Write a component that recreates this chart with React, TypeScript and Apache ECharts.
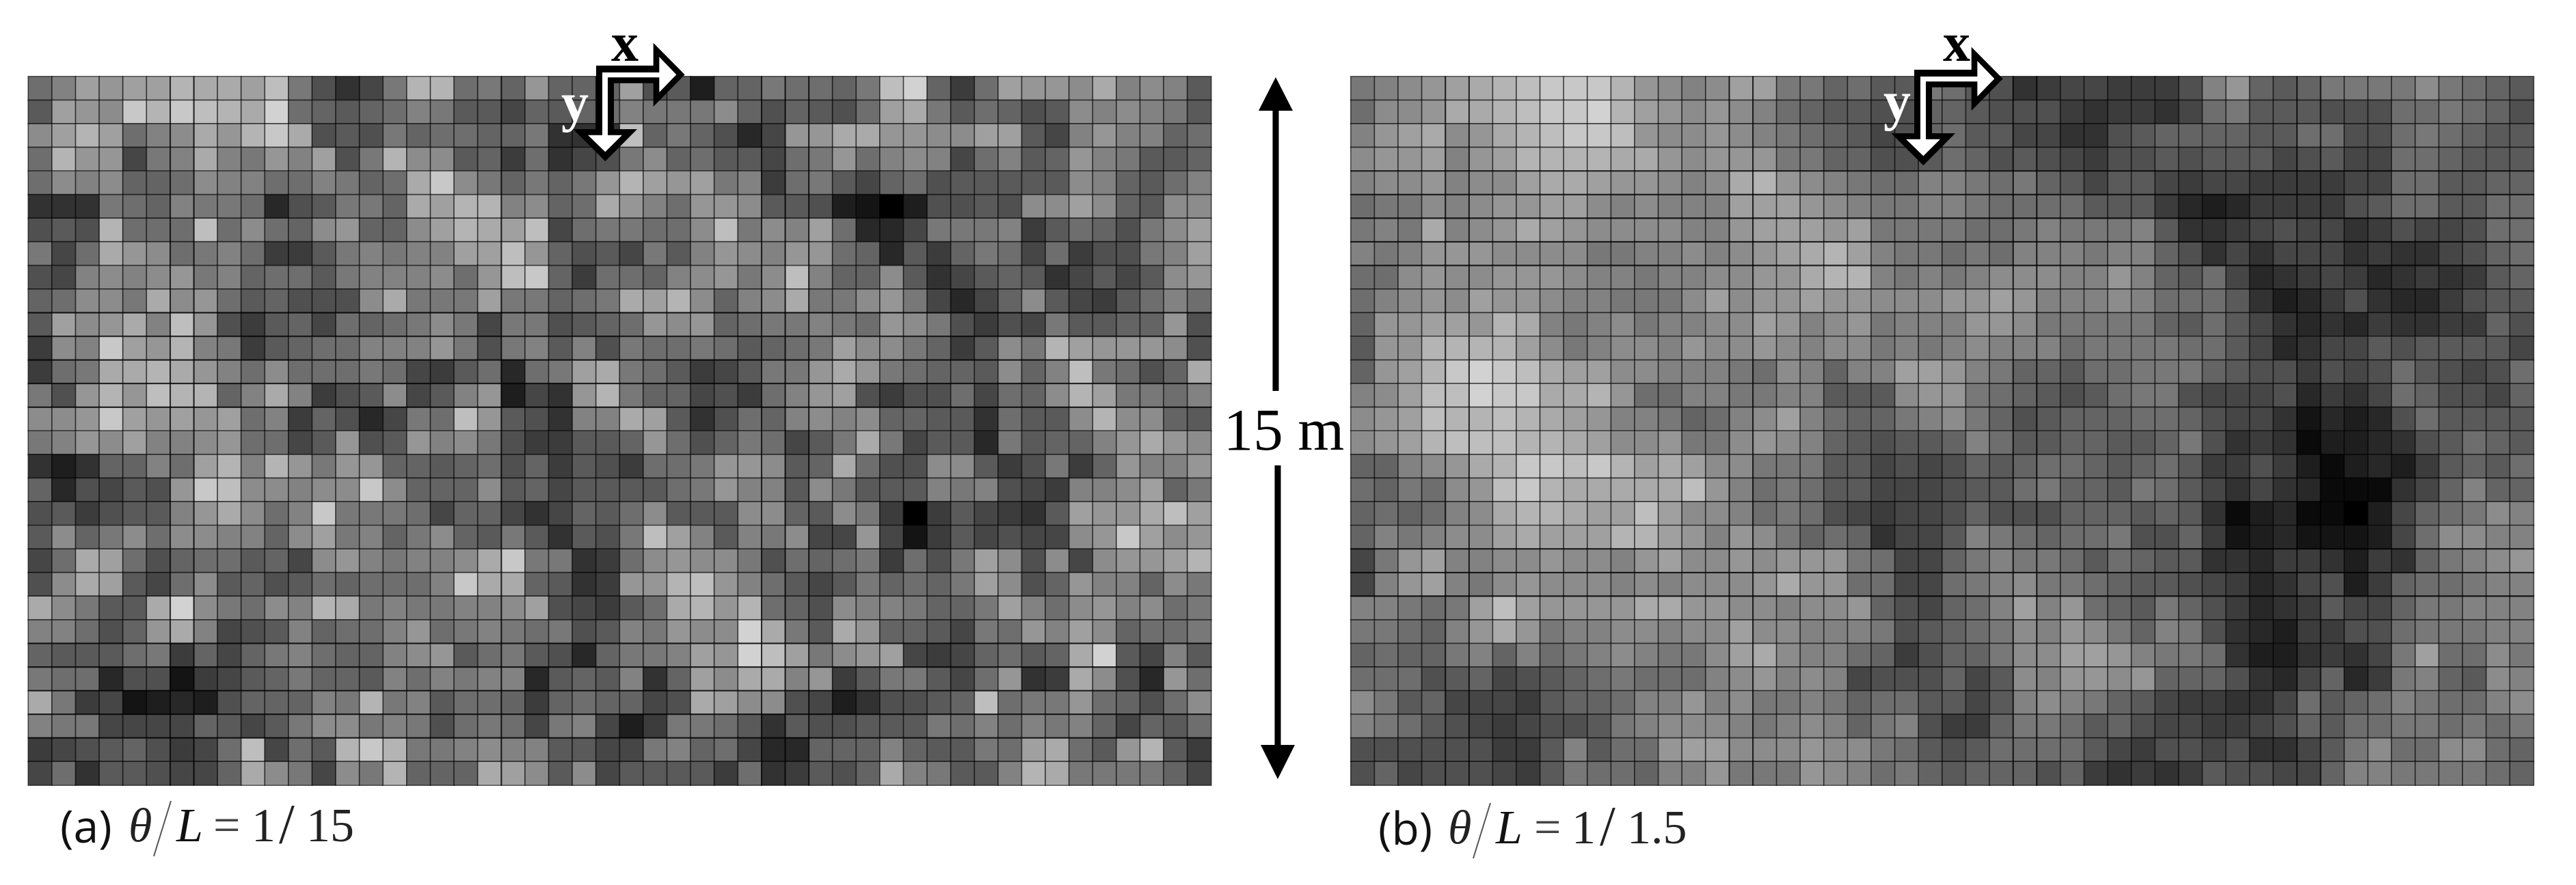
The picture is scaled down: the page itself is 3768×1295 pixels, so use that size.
import React, { useEffect, useRef } from "react";
import * as echarts from "echarts";

// Grey level of each cell divided by ten (row by row, 30 rows x 50 columns)
const rowsA = [
  [11,13,16,15,16,16,18,17,17,16,19,12,8,5,7,12,18,18,11,12,10,15,10,10,10,16,8,9,3,10,10,12,11,11,10,12,19,21,10,6,11,16,15,15,14,17,13,14,13,9],
  [9,16,15,14,20,18,20,19,18,17,21,11,10,9,10,11,13,12,9,9,7,10,9,10,11,13,12,12,12,14,10,8,10,9,8,11,16,17,12,9,11,10,8,9,14,13,14,13,12,9],
  [14,16,18,16,11,13,14,17,15,18,20,17,8,9,8,12,10,11,11,10,10,12,5,5,5,19,10,12,10,8,4,7,15,15,17,17,15,15,14,14,16,16,9,7,13,15,13,13,10,11],
  [11,18,15,15,7,12,13,17,13,12,15,13,16,8,12,18,14,14,9,10,6,11,5,7,8,12,14,10,11,9,9,7,11,12,15,11,13,14,13,7,11,13,9,10,15,13,12,9,9,10],
  [11,14,13,14,10,10,11,14,13,13,11,11,13,12,10,11,17,20,14,12,10,12,10,12,15,18,16,15,16,12,13,6,11,12,9,7,10,11,8,9,9,9,9,9,14,13,10,9,11,13],
  [5,5,5,12,11,10,13,12,12,11,4,8,9,12,12,10,17,16,18,18,13,14,10,11,17,15,13,11,15,15,14,9,9,8,3,2,0,3,8,8,9,8,14,14,16,14,10,9,14,14],
  [8,9,8,18,11,11,11,19,11,14,11,10,14,15,10,10,14,16,18,17,16,19,7,11,12,12,11,11,14,19,12,14,13,16,11,4,4,7,12,12,12,13,6,9,11,10,8,12,14,16],
  [12,7,11,17,15,14,11,12,13,11,6,6,9,12,13,12,13,13,16,16,19,15,10,8,9,7,12,9,13,15,14,13,15,15,11,10,4,9,6,10,12,11,7,11,6,8,8,12,13,16],
  [8,7,13,14,13,14,15,12,13,10,11,11,9,12,13,13,13,14,11,15,19,20,10,6,11,11,10,13,14,15,12,14,19,13,10,10,14,9,5,7,9,10,9,5,7,9,7,9,14,15],
  [10,11,14,14,12,17,14,15,11,9,10,8,8,8,14,17,12,12,12,16,12,12,10,11,12,17,16,18,14,10,13,14,17,12,12,14,15,12,7,4,7,10,14,9,7,6,9,11,13,11],
  [9,16,14,15,17,13,19,15,8,6,9,10,7,11,10,11,12,14,12,7,12,12,8,9,10,11,15,14,15,10,11,12,12,13,12,11,15,14,12,8,6,8,7,12,9,9,10,10,15,8],
  [6,14,13,20,16,15,18,13,12,6,9,10,11,11,13,13,13,15,12,8,12,13,9,13,8,12,11,11,12,11,9,10,11,12,16,14,14,12,10,6,9,14,12,18,16,15,15,15,14,8],
  [6,11,12,17,17,18,17,15,13,11,14,11,11,11,12,11,7,6,9,11,4,11,12,16,17,12,11,9,6,7,9,12,12,15,17,15,12,11,10,10,9,14,10,13,19,12,11,8,10,17],
  [12,8,15,18,15,19,18,18,10,13,17,13,6,8,9,14,7,9,13,15,3,7,5,15,18,12,10,10,7,8,6,11,13,15,16,8,6,8,8,11,7,11,10,14,18,16,12,12,11,13],
  [14,14,15,20,16,15,16,15,16,11,13,6,10,8,4,7,12,11,19,15,9,8,5,13,13,17,16,9,5,8,11,10,13,14,13,14,10,10,9,9,5,11,9,9,14,18,14,14,10,9],
  [12,13,15,14,16,13,13,14,15,11,11,7,9,15,8,9,15,13,14,12,8,6,6,9,9,10,15,11,8,10,12,11,7,9,12,17,12,7,9,9,4,12,9,10,10,13,15,17,15,14],
  [5,3,5,10,10,13,11,16,18,13,18,15,12,15,15,10,10,9,10,11,8,10,6,9,8,6,11,11,12,15,15,14,9,10,17,11,8,8,14,14,9,6,8,12,6,10,15,13,13,15],
  [10,4,8,7,9,8,15,20,19,14,14,13,14,14,20,14,10,10,10,14,9,10,7,9,9,9,9,11,12,15,13,13,9,14,12,9,9,9,13,12,13,8,7,6,13,13,14,16,10,12],
  [8,9,6,8,9,9,13,15,17,14,11,13,20,12,12,12,11,7,10,10,7,5,7,10,9,11,14,9,9,9,14,14,10,9,14,12,6,0,6,9,7,6,5,9,16,15,15,17,19,16],
  [9,14,10,12,14,11,14,14,13,13,10,14,16,12,13,10,12,14,10,9,12,9,5,9,8,12,19,16,13,9,13,12,14,7,7,15,7,2,6,9,7,8,7,7,14,15,20,16,14,15],
  [7,11,17,16,11,8,10,11,11,9,10,7,14,15,13,12,13,13,14,17,20,12,12,5,6,11,14,15,14,14,12,8,11,10,11,12,6,11,8,12,16,14,8,14,7,14,15,15,16,18],
  [8,14,17,16,9,7,11,14,9,10,8,9,11,10,11,11,11,13,20,17,17,10,9,5,6,15,15,18,19,15,13,11,9,7,9,12,10,11,10,12,16,14,8,10,15,13,13,10,14,12],
  [17,14,12,9,9,17,21,14,12,11,14,13,18,17,12,13,12,12,13,13,14,16,8,7,6,9,11,17,18,15,18,11,10,8,14,13,13,12,10,10,12,16,13,11,14,15,13,14,11,12],
  [13,13,11,8,10,15,17,13,7,8,9,13,10,11,11,13,15,11,12,13,12,11,12,8,9,13,12,15,14,14,21,17,12,9,17,15,10,10,9,7,12,11,15,13,16,14,10,11,11,12],
  [10,9,9,9,11,12,6,10,7,10,12,13,11,10,10,13,14,15,9,11,12,9,8,4,10,12,12,13,16,15,21,19,16,12,14,15,16,7,6,7,10,11,9,10,17,21,9,7,13,9],
  [12,11,11,4,8,8,2,6,7,9,10,12,10,10,9,13,11,13,12,13,13,4,9,10,9,13,5,10,16,14,17,17,13,15,6,9,12,12,9,7,11,15,5,6,17,14,8,4,15,11],
  [17,12,6,7,2,3,4,3,8,10,10,10,13,12,18,12,13,9,11,11,10,6,10,11,10,10,7,8,17,16,14,14,8,7,3,5,8,8,9,10,19,11,12,12,15,11,10,8,11,14],
  [13,12,12,7,7,7,7,10,9,7,9,12,14,14,12,13,12,8,11,12,11,7,12,13,7,3,6,12,12,11,9,5,9,8,8,9,9,9,12,11,13,11,13,12,13,10,7,10,9,11],
  [6,7,8,9,10,8,6,7,11,19,7,11,9,18,20,18,12,12,13,14,13,13,9,9,7,7,12,13,10,11,7,4,4,10,10,10,13,10,9,9,12,11,16,17,11,9,15,18,9,6],
  [7,11,5,9,9,8,7,7,10,17,14,12,7,14,12,18,10,10,10,17,16,14,9,14,7,9,9,9,9,6,11,5,6,9,8,10,17,13,12,9,9,13,18,17,12,12,12,12,10,7],
];

const rowsB = [
  [12,13,14,15,16,17,18,19,20,20,20,18,15,14,13,14,16,16,12,12,10,11,9,9,12,11,9,8,5,6,7,7,6,6,6,8,13,15,10,9,10,12,12,12,12,14,12,11,10,9],
  [11,14,14,15,17,17,18,19,20,20,21,18,16,15,14,15,14,13,11,10,9,9,8,8,10,10,9,8,8,8,6,5,6,6,5,7,11,12,9,9,9,8,8,8,11,11,12,11,10,8],
  [13,15,16,17,14,15,17,18,19,20,20,19,15,14,14,15,14,13,12,11,10,9,7,8,10,11,9,9,7,7,5,5,8,9,10,10,10,10,9,9,11,11,8,8,11,12,11,10,9,9],
  [14,15,15,16,13,15,16,18,18,18,18,17,17,15,14,15,15,15,12,12,10,10,8,8,9,11,10,8,9,8,7,6,8,8,9,8,9,9,9,7,8,9,7,7,11,11,10,9,9,9],
  [13,14,14,15,13,14,14,16,17,17,16,15,15,14,13,14,17,18,15,14,13,12,11,11,13,13,12,11,12,10,9,7,9,9,7,6,7,7,6,6,6,6,7,7,11,11,9,9,10,10],
  [11,12,12,14,13,14,15,15,16,16,14,13,14,13,13,13,16,16,16,15,14,13,12,12,13,13,12,11,11,11,11,9,9,9,6,4,3,4,6,6,6,6,8,9,11,11,9,9,11,11],
  [12,13,12,17,13,14,15,17,16,15,14,14,14,14,13,13,15,16,16,16,15,16,12,12,12,12,11,11,12,13,12,12,12,13,9,5,5,6,7,8,7,7,5,6,8,7,7,8,11,11],
  [13,12,13,15,15,15,14,14,14,14,12,12,13,13,14,13,14,15,16,17,18,16,13,12,12,11,12,11,13,13,13,12,13,13,10,8,5,7,5,7,7,7,5,6,5,5,7,8,10,11],
  [11,11,14,15,14,14,15,15,15,14,13,13,12,13,13,14,14,15,15,17,18,18,13,12,13,12,13,14,14,14,13,13,15,13,10,9,11,7,4,5,6,7,6,4,5,6,5,6,9,10],
  [11,13,14,15,14,16,15,15,14,13,13,12,12,12,14,16,14,15,15,16,15,15,14,14,14,15,15,16,15,13,13,13,14,13,11,11,11,9,5,3,4,6,8,5,4,4,6,8,9,9],
  [10,15,15,16,16,15,18,17,13,12,13,14,12,13,13,14,14,16,15,13,14,15,12,13,13,13,15,15,14,12,12,12,12,12,10,9,11,9,7,5,4,5,4,6,5,5,6,6,10,8],
  [9,15,15,18,18,18,18,16,14,12,13,14,14,13,15,14,14,15,14,13,14,14,12,13,12,13,14,13,13,13,11,12,12,12,12,11,11,9,7,4,5,7,7,9,8,9,9,9,9,7],
  [10,15,16,18,20,21,20,19,17,16,16,14,14,13,13,13,12,11,14,13,10,13,13,16,16,15,13,12,10,10,9,11,11,12,12,12,10,9,8,8,6,8,7,8,11,9,8,7,8,11],
  [13,14,16,19,19,21,20,20,17,17,18,15,11,11,13,13,12,12,13,13,9,9,9,14,15,15,12,11,10,9,8,9,11,12,12,8,7,7,7,8,4,6,5,7,11,10,8,8,7,10],
  [14,15,16,19,18,18,19,18,17,16,15,13,13,12,10,11,13,14,16,13,11,10,10,12,13,14,12,10,8,9,10,10,10,11,11,10,8,7,7,5,2,4,3,4,8,11,9,9,9,9],
  [14,15,16,18,19,19,19,18,18,17,16,14,14,15,12,12,14,15,14,13,10,9,8,9,9,10,13,11,9,9,10,10,9,9,10,12,8,5,6,5,1,3,3,4,5,8,9,11,10,9],
  [10,10,13,14,15,17,18,20,20,19,20,18,16,17,16,14,14,12,12,12,9,9,7,8,7,8,10,9,10,11,11,10,9,10,11,9,6,6,8,6,3,1,3,4,3,6,9,10,9,11],
  [11,10,12,11,14,15,19,20,18,17,17,17,17,17,19,15,13,11,12,11,9,9,7,7,7,8,9,9,11,12,10,10,9,12,11,9,7,5,7,5,4,1,1,1,5,7,10,13,10,10],
  [10,11,10,11,13,14,17,18,18,17,16,16,19,16,14,14,13,11,12,11,8,7,6,7,7,8,10,8,8,8,10,10,10,9,10,9,5,1,3,4,1,1,0,3,7,10,11,12,14,13],
  [10,13,12,13,14,14,16,17,16,16,16,18,18,16,15,13,15,14,12,10,11,10,5,7,7,9,13,12,11,10,11,11,12,8,8,10,6,2,3,4,2,2,2,3,7,11,14,14,13,13],
  [7,12,15,16,13,13,14,14,15,14,14,13,15,16,14,14,15,14,15,15,15,12,11,7,7,10,12,13,12,12,11,9,11,10,9,9,5,5,4,6,6,5,3,6,5,10,12,13,14,15],
  [7,13,15,16,13,12,14,15,14,14,14,13,14,13,14,14,14,15,17,15,15,11,11,7,7,11,12,13,14,12,12,11,10,9,9,8,7,6,4,5,7,8,3,6,10,11,11,12,13,13],
  [13,13,12,11,12,16,19,16,15,15,15,15,17,17,15,15,14,14,13,14,14,15,10,8,7,10,11,13,16,13,15,11,10,9,12,10,8,6,4,5,6,9,7,7,10,12,12,13,13,13],
  [12,12,11,10,13,15,17,15,12,13,13,14,14,13,14,14,16,14,14,13,13,13,12,8,9,10,11,12,14,13,15,14,12,10,13,12,8,5,4,3,6,6,8,8,11,12,12,12,13,13],
  [10,11,10,10,12,13,10,13,11,12,13,14,13,12,12,14,16,17,14,13,13,11,10,6,8,10,10,12,14,14,16,16,15,13,12,12,11,5,3,3,5,6,5,7,12,16,11,11,14,12],
  [11,11,11,8,9,10,7,8,9,10,11,12,11,11,11,13,14,15,13,14,13,7,8,8,8,10,7,9,14,13,15,15,14,15,10,10,10,8,5,4,7,10,4,6,12,13,10,9,14,13],
  [14,12,9,10,7,7,7,6,9,10,10,11,13,13,15,13,14,12,12,13,12,10,11,11,9,9,7,9,13,14,13,12,10,9,7,6,6,5,5,7,11,9,10,11,13,12,11,11,13,14],
  [13,12,11,9,8,7,6,7,8,8,9,12,13,14,14,14,13,12,13,14,13,10,12,13,8,6,6,10,12,12,11,9,10,8,7,7,6,6,7,8,10,9,11,11,12,12,11,12,11,12],
  [8,8,8,8,8,8,6,6,9,13,9,11,11,15,16,16,14,14,14,15,14,14,12,11,9,8,9,11,11,11,11,9,7,6,8,8,7,8,5,5,7,9,12,14,11,11,14,14,11,10],
  [8,10,7,8,8,8,7,6,9,12,11,11,10,13,13,15,12,12,12,15,14,13,11,12,10,9,10,10,10,8,10,6,5,6,5,6,9,8,8,7,7,10,13,13,12,12,12,12,11,10],
];

const columnLabels = Array.from({ length: 50 }, (_, i) => String(i));
const rowLabels = Array.from({ length: 30 }, (_, i) => String(i));
const captionA = { tag: "(a)", value: "1", tail: "15" };
const captionB = { tag: "(b)", value: "1", tail: "1.5" };

// Grid boundaries that print heavier in the picture
const heavyRowsA = [10, 11, 12, 13, 14, 24, 25, 26, 27, 28];
const heavyColsA = [6, 7, 20, 31, 32, 33];
const heavyRowsB = [4, 5, 6, 7, 8, 20, 21, 22];
const heavyColsB = [4, 5, 16, 17, 28, 29, 40, 41];

const WIDTH = 3768;
const HEIGHT = 1295;
const GRID_TOP = 112;
const GRID_W = 1730;
const GRID_H = 1037;
const LEFT_A = 41.5;
const LEFT_B = 1976;

const toCells = (rows: number[][]) =>
  rows.flatMap((row, y) => row.map((v, x) => [x, y, v]));

const heavyLines = (left: number, heavyRows: number[], heavyCols: number[]) => [
  ...heavyRows.map((r) => {
    const y = GRID_TOP + (r * GRID_H) / rowLabels.length;
    return {
      type: "line", z: 5,
      shape: { x1: left, y1: y, x2: left + GRID_W, y2: y },
      style: { stroke: "rgba(0,0,0,0.6)", lineWidth: 2 },
    };
  }),
  ...heavyCols.map((c) => {
    const x = left + (c * GRID_W) / columnLabels.length;
    return {
      type: "line", z: 5,
      shape: { x1: x, y1: GRID_TOP, x2: x, y2: GRID_TOP + GRID_H },
      style: { stroke: "rgba(0,0,0,0.5)", lineWidth: 2 },
    };
  }),
];

const arrowOuter = [[276,228],[527,228],[527,128],[665,268],[527,408],[527,305],[354,305],[354,507],[456,507],[316,648],[175,507],[276,507]];
const arrowInner = [[303,258],[553,258],[553,190],[628,268],[553,345],[553,280],[327,280],[327,533],[390,533],[316,607],[240,533],[303,533]];

const axisArrow = (dx: number, dy: number) => {
  const map = (p: number[]) => [780 + p[0] / 3 + dx, 20 + p[1] / 3 + dy];
  return [
    { type: "polygon", z: 10, shape: { points: arrowOuter.map(map) }, style: { fill: "#000" } },
    { type: "polygon", z: 11, shape: { points: arrowInner.map(map) }, style: { fill: "#fff" } },
  ];
};

const txt = (text: string, x: number, y: number, font: string, fill = "#111", align = "left") => ({
  type: "text",
  z: 12,
  style: { text, x, y, font, fill, textAlign: align, textVerticalAlign: "middle" },
});

const SERIF = '"Liberation Serif", "DejaVu Serif", serif';

const caption = (
  c: { tag: string; value: string; tail: string },
  xs: { tag: number; theta: number; s0: number; s1: number; L: number; eq: number; one: number; sl: number; tail: number },
  dy: number
) => [
  txt(c.tag, xs.tag, 1207 + dy, '66px "Open Sans", sans-serif'),
  txt("θ", xs.theta, 1207 + dy, `italic 70px ${SERIF}`, "#222"),
  {
    type: "line",
    z: 12,
    shape: { x1: xs.s1, y1: 1172 + dy, x2: xs.s0, y2: 1253 + dy },
    style: { stroke: "#555", lineWidth: 2 },
  },
  txt("L", xs.L, 1207 + dy, `italic 70px ${SERIF}`, "#111"),
  txt("=", xs.eq, 1207 + dy, `70px ${SERIF}`, "#444"),
  txt(c.value, xs.one, 1207 + dy, `70px ${SERIF}`, "#222"),
  txt("/", xs.sl, 1205 + dy, `82px ${SERIF}`, "#222"),
  txt(c.tail, xs.tail, 1207 + dy, `70px ${SERIF}`, "#222"),
];

export default function App() {
  const ref = useRef<HTMLDivElement>(null);
  useEffect(() => {
    if (!ref.current) return;
    const chart = echarts.init(ref.current, undefined, { renderer: "svg" });
    const cellStyle = { borderColor: "rgba(0,0,0,0.6)", borderWidth: 1.7 };
    chart.setOption({
      animation: false,
      backgroundColor: "#fff",
      grid: [
        { left: LEFT_A, top: GRID_TOP, width: GRID_W, height: GRID_H },
        { left: LEFT_B, top: GRID_TOP, width: GRID_W, height: GRID_H },
      ],
      xAxis: [
        { type: "category", gridIndex: 0, data: columnLabels, show: false },
        { type: "category", gridIndex: 1, data: columnLabels, show: false },
      ],
      yAxis: [
        { type: "category", gridIndex: 0, data: rowLabels, inverse: true, show: false },
        { type: "category", gridIndex: 1, data: rowLabels, inverse: true, show: false },
      ],
      visualMap: {
        show: false,
        type: "continuous",
        min: 0,
        max: 25.5,
        seriesIndex: [0, 1],
        inRange: { color: ["#000000", "#ffffff"] },
      },
      series: [
        { type: "heatmap", xAxisIndex: 0, yAxisIndex: 0, data: toCells(rowsA), itemStyle: cellStyle, emphasis: { disabled: true } },
        { type: "heatmap", xAxisIndex: 1, yAxisIndex: 1, data: toCells(rowsB), itemStyle: cellStyle, emphasis: { disabled: true } },
      ],
      graphic: [
        ...heavyLines(LEFT_A, heavyRowsA, heavyColsA),
        ...heavyLines(LEFT_B, heavyRowsB, heavyColsB),
        ...axisArrow(0, 0),
        ...axisArrow(1928, 6),
        txt("x", 914, 62, `bold 80px ${SERIF}`, "#000", "center"),
        txt("y", 841, 150, `bold 80px ${SERIF}`, "#fff", "center"),
        txt("x", 2862, 62, `bold 80px ${SERIF}`, "#000", "center"),
        txt("y", 2775, 148, `bold 80px ${SERIF}`, "#fff", "center"),
        { type: "polygon", z: 10, shape: { points: [[1866, 113], [1891, 162], [1841, 162]] }, style: { fill: "#000" } },
        { type: "rect", z: 10, shape: { x: 1861.5, y: 160, width: 9, height: 412 }, style: { fill: "#000" } },
        { type: "rect", z: 10, shape: { x: 1864.5, y: 681, width: 9, height: 411 }, style: { fill: "#000" } },
        { type: "polygon", z: 10, shape: { points: [[1869, 1140], [1894, 1090], [1844, 1090]] }, style: { fill: "#000" } },
        txt("15 m", 1878, 628, `87px ${SERIF}`, "#000", "center"),
        ...caption(captionA, { tag: 88, theta: 188, s0: 225, s1: 250, L: 258, eq: 312, one: 368, sl: 408, tail: 448 }, 0),
        ...caption(captionB, { tag: 2016, theta: 2118, s0: 2155, s1: 2180, L: 2188, eq: 2244, one: 2299, sl: 2340, tail: 2380 }, 3),
      ],
    });
    return () => chart.dispose();
  }, []);
  return (
    <div
      ref={ref}
      style={{ position: "fixed", left: 0, top: 0, width: WIDTH, height: HEIGHT, background: "#fff" }}
    />
  );
}
